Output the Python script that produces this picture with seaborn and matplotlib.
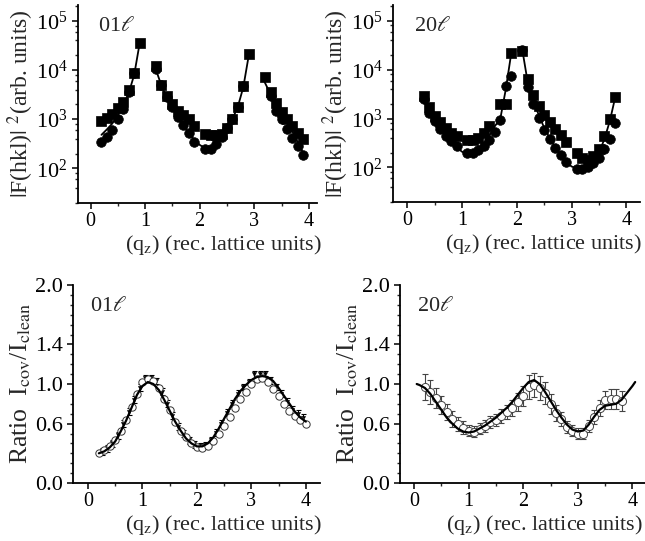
import numpy as np
import pandas as pd
import matplotlib
matplotlib.use("Agg")
import matplotlib.pyplot as plt
import matplotlib.ticker as mticker
import seaborn as sns

# ---- 01l, |F|^2 (top left) ----
q01_sq = [0.2, 0.3, 0.4, 0.5, 0.6, 0.7, 0.8, 0.9,
          1.2, 1.3, 1.4, 1.5, 1.6, 1.7, 1.8, 1.9,
          2.1, 2.2, 2.3, 2.4, 2.5, 2.6, 2.7, 2.8, 2.9,
          3.2, 3.3, 3.4, 3.5, 3.6, 3.7, 3.8, 3.9]
F01_sq = [900, 1080, 1250, 1650, 2250, 3900, 8500, 35000,
          11800, 4900, 2900, 2000, 1500, 1200, 1000, 720,
          510, 480, 480, 510, 650, 1000, 1800, 4700, 21000,
          7300, 3600, 2150, 1400, 1000, 720, 530, 400]
q01_ci = [0.2, 0.3, 0.4, 0.5, 0.6, 0.7, 0.8,
          1.2, 1.3, 1.4, 1.5, 1.6, 1.7, 1.8, 1.9,
          2.1, 2.2, 2.3, 2.4, 2.5, 2.6, 2.7, 2.8,
          3.3, 3.4, 3.5, 3.6, 3.7, 3.8, 3.9]
F01_ci = [350, 440, 600, 1000, 1600, 3600, 8500,
          10500, 4900, 2800, 1800, 1100, 750, 520, 340,
          245, 245, 310, 440, 650, 1000, 1790, 4700,
          2900, 1500, 1000, 620, 410, 280, 190]
q01_fit = [[0.2, 0.3, 0.4, 0.5, 0.6, 0.7, 0.8, 0.9],
           [1.2, 1.3, 1.4, 1.5, 1.6, 1.7, 1.8, 1.9, 2.0, 2.1, 2.2, 2.3, 2.4,
            2.5, 2.6, 2.7, 2.8, 2.9],
           [3.15, 3.3, 3.5, 3.7, 3.9]]
F01_fit = [[480, 620, 820, 1200, 1900, 3400, 8000, 35000],
           [10000, 4800, 2700, 1700, 1100, 750, 520, 380, 300, 255, 250, 290,
            400, 620, 1000, 1800, 4500, 20000],
           [7000, 3200, 1300, 560, 200]]

# ---- 20l, |F|^2 (top right) ----
q20_sq = [0.3, 0.4, 0.5, 0.6, 0.7, 0.8, 0.9,
          1.1, 1.2, 1.3, 1.4, 1.5, 1.7, 1.8, 1.9,
          2.1, 2.2, 2.3, 2.4, 2.5, 2.6, 2.7, 2.8, 2.9,
          3.1, 3.2, 3.3, 3.4, 3.5, 3.6, 3.7, 3.8]
F20_sq = [2900, 1740, 1120, 850, 650, 510, 440,
          365, 365, 410, 500, 700, 2000, 2000, 22000,
          24000, 6500, 3100, 1850, 1210, 850, 620, 455, 330,
          200, 160, 142, 168, 235, 440, 1000, 2800]
q20_ci = [0.3, 0.4, 0.5, 0.6, 0.7, 0.8, 0.9,
          1.1, 1.2, 1.3, 1.4, 1.5, 1.6, 1.7, 1.8, 1.9,
          2.1, 2.2, 2.3, 2.4, 2.5, 2.6, 2.7, 2.8, 2.9,
          3.1, 3.2, 3.3, 3.4, 3.5, 3.6, 3.7, 3.8]
F20_ci = [2500, 1300, 890, 600, 440, 350, 275,
          195, 200, 230, 275, 365, 525, 930, 4700, 7600,
          25000, 4500, 1950, 1040, 580, 375, 255, 178, 130,
          93, 93, 100, 126, 160, 235, 390, 820]
q20_fit = [[0.3, 0.4, 0.5, 0.6, 0.7, 0.8, 0.9, 1.0, 1.1, 1.2, 1.3, 1.4, 1.5,
            1.6, 1.7, 1.8, 1.9],
           [2.1, 2.2, 2.3, 2.4, 2.5, 2.6, 2.7, 2.8, 2.9, 3.0, 3.1, 3.2, 3.3,
            3.4, 3.5, 3.6, 3.7, 3.8]]
F20_fit = [[3000, 1600, 950, 640, 450, 330, 260, 210, 190, 200, 240, 310,
            450, 700, 1000, 4000, 22000],
           [26000, 5500, 2300, 1200, 650, 400, 260, 180, 130, 105, 95, 95,
            105, 135, 200, 380, 900, 2800]]

# ---- 01l, ratio (bottom left) ----
q01r_ci = [0.2, 0.3, 0.4, 0.5, 0.6, 0.7, 0.8, 0.9, 1.0, 1.1, 1.2, 1.3, 1.4,
           1.5, 1.6, 1.7, 1.8, 1.9, 2.0, 2.1, 2.2, 2.3, 2.4, 2.5, 2.6, 2.7,
           2.8, 2.9, 3.0, 3.1, 3.2, 3.3, 3.4, 3.5, 3.6, 3.7, 3.8, 3.9, 4.0]
R01_ci = [0.30, 0.33, 0.37, 0.43, 0.53, 0.64, 0.77, 0.90, 1.02, 1.05, 1.03,
          0.96, 0.85, 0.74, 0.62, 0.53, 0.46, 0.40, 0.36, 0.35, 0.37, 0.42,
          0.50, 0.58, 0.67, 0.76, 0.85, 0.92, 1.00, 1.05, 1.06, 1.02, 0.95,
          0.88, 0.80, 0.73, 0.68, 0.64, 0.60]
q01r_tr = [0.25, 0.35, 0.45, 0.55, 0.65, 0.75, 0.85, 0.95, 1.05, 1.15, 1.25,
           1.35, 1.45, 1.55, 1.65, 1.75, 1.85, 1.95, 2.05, 2.15, 2.25, 2.35,
           2.45, 2.55, 2.65, 2.75, 2.85, 2.95, 3.05, 3.15, 3.25, 3.35, 3.45,
           3.55, 3.65, 3.75, 3.85, 3.95]
R01_tr = [0.32, 0.35, 0.40, 0.48, 0.60, 0.72, 0.84, 0.96, 1.06, 1.06, 1.03,
          0.92, 0.80, 0.68, 0.57, 0.50, 0.43, 0.39, 0.37, 0.38, 0.43, 0.51,
          0.60, 0.71, 0.80, 0.90, 0.97, 1.02, 1.10, 1.10, 1.10, 1.04, 0.97,
          0.90, 0.82, 0.74, 0.70, 0.66]
q01r_fit = q01r_ci
R01_fit = [0.30, 0.32, 0.36, 0.42, 0.52, 0.63, 0.76, 0.89, 0.98, 1.02, 1.00,
           0.94, 0.84, 0.73, 0.62, 0.53, 0.45, 0.40, 0.37, 0.37, 0.40, 0.46,
           0.55, 0.65, 0.75, 0.85, 0.93, 0.99, 1.04, 1.07, 1.08, 1.07, 1.03,
           0.96, 0.88, 0.80, 0.72, 0.66, 0.62]

# ---- 20l, ratio (bottom right) ----
q20r_ci = [0.2, 0.3, 0.4, 0.5, 0.6, 0.7, 0.8, 0.9, 1.0, 1.1, 1.2, 1.3, 1.4,
           1.5, 1.6, 1.7, 1.8, 1.9, 2.0, 2.1, 2.2, 2.3, 2.4, 2.5, 2.6, 2.7,
           2.8, 2.9, 3.0, 3.1, 3.2, 3.3, 3.4, 3.5, 3.6, 3.7, 3.8]
R20_ci = [0.97, 0.92, 0.86, 0.79, 0.72, 0.65, 0.60, 0.56, 0.53, 0.52, 0.55,
          0.58, 0.62, 0.64, 0.68, 0.72, 0.76, 0.82, 0.88, 0.97, 0.99, 0.96,
          0.91, 0.80, 0.71, 0.65, 0.57, 0.53, 0.50, 0.50, 0.58, 0.67, 0.76,
          0.84, 0.85, 0.85, 0.83]
R20_err = [0.13, 0.12, 0.10, 0.09, 0.08, 0.08, 0.07, 0.07, 0.06, 0.06, 0.06,
           0.06, 0.06, 0.06, 0.07, 0.07, 0.08, 0.09, 0.10, 0.12, 0.12, 0.12,
           0.11, 0.10, 0.08, 0.07, 0.06, 0.06, 0.06, 0.06, 0.06, 0.07, 0.08,
           0.09, 0.10, 0.10, 0.10]
q20r_fit = [0.05, 0.1, 0.2, 0.3, 0.4, 0.5, 0.6, 0.7, 0.8, 0.9, 1.0, 1.1, 1.2,
            1.3, 1.4, 1.5, 1.6, 1.7, 1.8, 1.9, 2.0, 2.1, 2.2, 2.3, 2.4, 2.5,
            2.6, 2.7, 2.8, 2.9, 3.0, 3.1, 3.2, 3.3, 3.4, 3.5, 3.6, 3.7, 3.8,
            3.9, 4.0, 4.05]
R20_fit = [1.00, 0.99, 0.96, 0.90, 0.82, 0.74, 0.66, 0.60, 0.55, 0.52, 0.51,
           0.52, 0.55, 0.58, 0.62, 0.66, 0.71, 0.76, 0.82, 0.89, 0.96, 1.02,
           1.04, 1.00, 0.92, 0.83, 0.74, 0.66, 0.59, 0.54, 0.52, 0.53, 0.59,
           0.67, 0.74, 0.78, 0.79, 0.80, 0.84, 0.91, 0.98, 1.02]

XLABEL = r"(q$_{\rm z}$) (rec. lattice units)"
FLABEL = r"$|$F(hkl)$|$ $^2$(arb. units)"
RLABEL = r"Ratio  I$_{\rm cov}$/I$_{\rm clean}$"

sns.set_style("ticks")
plt.rcParams["font.family"] = ["Liberation Serif", "DejaVu Serif"]
plt.rcParams["mathtext.fontset"] = "stix"
plt.rcParams["xtick.direction"] = "out"
plt.rcParams["ytick.direction"] = "out"

fig = plt.figure(figsize=(6.45, 5.41), dpi=100)
W, H = 645, 541


def add_ax(x0, x1, ytop, ybot):
    return fig.add_axes([x0 / W, 1 - ybot / H, (x1 - x0) / W, (ybot - ytop) / H])


def style(ax, xlim, lab_xy):
    sns.despine(ax=ax)
    for s in ("left", "bottom"):
        ax.spines[s].set_linewidth(1.3)
        ax.spines[s].set_color("black")
    ax.set_xlim(*xlim)
    ax.xaxis.set_major_locator(mticker.MultipleLocator(1))
    ax.xaxis.set_minor_locator(mticker.MultipleLocator(0.5))
    ax.tick_params(which="major", length=4, width=1.1, labelsize=14.5, colors="black")
    ax.tick_params(axis="x", which="major", pad=2.5)
    ax.tick_params(which="minor", length=2.5, width=1.0)
    ax.set_xlabel(XLABEL, fontsize=16)
    ax.xaxis.set_label_coords(*lab_xy)
    ax.xaxis.label.set_horizontalalignment("right")


def f_panel(ax, qs, fs, qc, fc, qfit, ffit, tag, xlim, lab_xy):
    ax.set_yscale("log")
    for qq, ff in zip(qfit, ffit):
        sns.lineplot(x=qq, y=ff, ax=ax, color="black", lw=1.3, estimator=None)
    sns.scatterplot(x=qc, y=fc, ax=ax, marker="o", s=48, color="black",
                    edgecolor="black", linewidth=0.5, zorder=3)
    sns.scatterplot(x=qs, y=fs, ax=ax, marker="s", s=44, color="black",
                    edgecolor="black", linewidth=0.5, zorder=3)
    ax.set_ylim(19.7, 2.1e5)
    ax.yaxis.set_major_locator(mticker.LogLocator(base=10, numticks=10))
    ax.yaxis.set_minor_locator(mticker.LogLocator(base=10, subs=(2, 4, 6, 8), numticks=10))
    ax.yaxis.set_minor_formatter(mticker.NullFormatter())
    style(ax, xlim, lab_xy)
    ax.tick_params(axis="y", which="major", labelsize=16)
    ax.set_ylabel(FLABEL, fontsize=17, labelpad=0)
    ax.text(0.085, 0.94, tag, transform=ax.transAxes, fontsize=16, va="top")


def r_panel(ax, tag, xlim, lab_xy):
    ax.set_ylim(0, 2.0)
    ax.yaxis.set_major_locator(mticker.FixedLocator([0.0, 0.6, 1.0, 1.4, 2.0]))
    ax.yaxis.set_major_formatter(mticker.FormatStrFormatter("%.1f"))
    ax.yaxis.set_minor_locator(mticker.MultipleLocator(0.1))
    style(ax, xlim, lab_xy)
    ax.tick_params(axis="y", which="major", labelsize=16)
    ax.set_ylabel(RLABEL, fontsize=18.5, labelpad=1)
    ax.text(0.07, 0.94, tag, transform=ax.transAxes, fontsize=16, va="top")


# top left
ax1 = add_ax(78, 317, 5, 203)
f_panel(ax1, q01_sq, F01_sq, q01_ci, F01_ci, q01_fit, F01_fit, r"01$\ell$",
        (-0.23, 4.15), (1.021, -0.15))

# top right
ax2 = add_ax(393, 640, 5, 202)
f_panel(ax2, q20_sq, F20_sq, q20_ci, F20_ci, q20_fit, F20_fit, r"20$\ell$",
        (-0.26, 4.25), (1.010, -0.15))

# bottom left
ax3 = add_ax(73, 320, 285, 483)
sns.lineplot(x=q01r_fit, y=R01_fit, ax=ax3, color="black", lw=1.6, estimator=None, zorder=4)
ax3.errorbar(q01r_tr, R01_tr, yerr=0.035, fmt="none", ecolor="black",
             elinewidth=0.8, capsize=1.8, capthick=0.8, zorder=2)
sns.scatterplot(x=q01r_tr, y=R01_tr, ax=ax3, marker="v", s=10, color="black",
                edgecolor="black", zorder=3)
sns.scatterplot(x=q01r_ci, y=R01_ci, ax=ax3, marker="o", s=28, facecolor="white",
                edgecolor="#333333", linewidth=0.7, zorder=3)
r_panel(ax3, r"01$\ell$", (-0.275, 4.26), (1.008, -0.15))

# bottom right
ax4 = add_ax(400, 645, 285, 483)
ax4.errorbar(q20r_ci, R20_ci, yerr=R20_err, fmt="none", ecolor="#444444",
             elinewidth=0.8, capsize=2.4, capthick=0.8, zorder=2)
sns.scatterplot(x=q20r_ci, y=R20_ci, ax=ax4, marker="o", s=34, facecolor="white",
                edgecolor="#444444", linewidth=0.7, zorder=3)
sns.lineplot(x=q20r_fit, y=R20_fit, ax=ax4, color="black", lw=1.6, estimator=None, zorder=4)
r_panel(ax4, r"20$\ell$", (-0.256, 4.23), (0.992, -0.15))

fig.savefig("out.png", dpi=100)
